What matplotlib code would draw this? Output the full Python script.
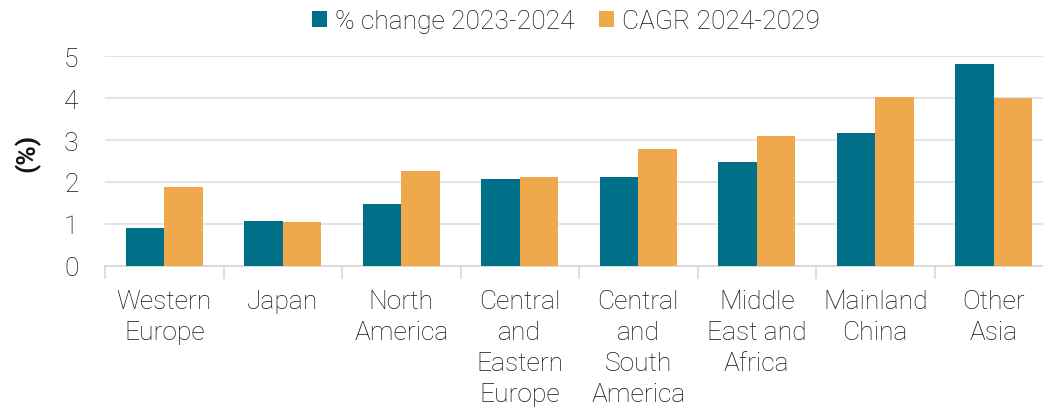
import matplotlib
matplotlib.use("Agg")
import matplotlib.pyplot as plt
import numpy as np

categories = ["Western\nEurope", "Japan", "North\nAmerica", "Central\nand\nEastern\nEurope",
              "Central\nand\nSouth\nAmerica", "Middle\nEast and\nAfrica", "Mainland\nChina", "Other\nAsia"]
change_2023_2024 = [0.90, 1.07, 1.47, 2.06, 2.12, 2.47, 3.17, 4.81]
cagr_2024_2029 = [1.88, 1.04, 2.25, 2.12, 2.79, 3.10, 4.04, 4.00]
yticks = [0, 1, 2, 3, 4, 5]

teal = "#006F88"
orange = "#F0A84C"
txt = "#141414"
plt.rcParams['font.family'] = ['Roboto', 'DejaVu Sans']

fig = plt.figure(figsize=(10.43, 4.10), dpi=100)
ax = fig.add_axes([105/1043, 1 - 266.7/410, (1053 - 105)/1043, (266.7 - 57.3)/410])

x = np.arange(len(categories))
w = 0.323
ax.bar(x - w/2, change_2023_2024, width=w, color=teal, label="% change 2023-2024", zorder=3)
ax.bar(x + w/2, cagr_2024_2029, width=w, color=orange, label="CAGR 2024-2029", zorder=3)

ax.set_xlim(-0.5, len(categories) - 0.5)
ax.set_ylim(0, 5)
ax.set_yticks(yticks)
ax.set_yticklabels([str(v) for v in yticks], fontsize=19, fontweight='light', color=txt)
ax.grid(axis='y', color='#E2E2E2', linewidth=1.3, zorder=0)
for s in ['top', 'right', 'left']:
    ax.spines[s].set_visible(False)
ax.spines['bottom'].set_color('#D9D9D9')
ax.spines['bottom'].set_linewidth(1.3)
ax.tick_params(axis='y', length=0, pad=19)
ax.set_xticks(np.arange(len(categories) + 1) - 0.5, minor=False)
ax.set_xticklabels([])
ax.tick_params(axis='x', which='major', length=9, width=1.2, color='#D9D9D9', direction='out')
ax.set_xticks(x, minor=True)
ax.set_xticklabels(categories, minor=True, fontsize=19, fontweight='light', color=txt,
                   linespacing=1.37, va='top')
ax.tick_params(axis='x', which='minor', length=0, pad=17)

ax.set_ylabel("(%)", fontsize=19, fontweight='bold', color=txt)
ax.yaxis.set_label_coords((40 - 105) / 948, (266.7 - 153) / 209.4)

ax.legend(loc='center', ncol=2, frameon=False, fontsize=19, handlelength=0.57, handleheight=0.57,
          handletextpad=0.3, columnspacing=0.9, borderaxespad=0)
leg = ax.get_legend()
leg.set_bbox_to_anchor((566/1043, 1 - 22/410), transform=fig.transFigure)
for t in leg.get_texts():
    t.set_color(txt)
    t.set_fontweight('light')

fig.savefig("out.png", dpi=100)
